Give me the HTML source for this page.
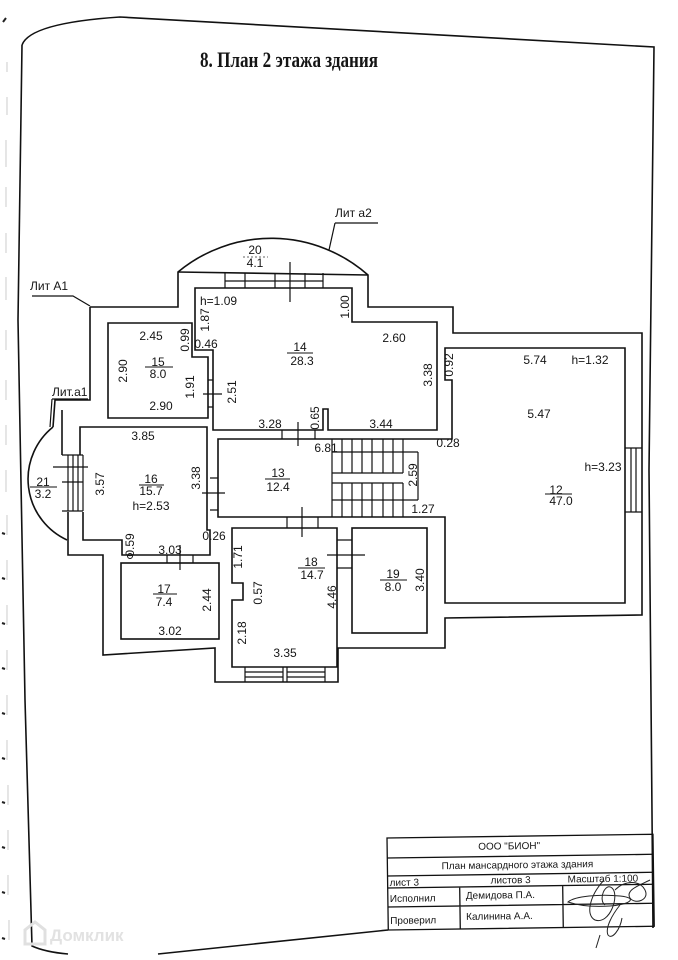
<!DOCTYPE html>
<html><head><meta charset="utf-8">
<style>
html,body{margin:0;padding:0;background:#fff;}
svg{display:block;}
text{font-family:"Liberation Sans",sans-serif;font-size:12px;fill:#151515;}
.c{text-anchor:middle;}
.t{font-family:"Liberation Serif",serif;font-weight:bold;font-size:22px;}
.s{font-size:10px;}
</style></head><body>
<svg width="678" height="960" viewBox="0 0 678 960" xmlns="http://www.w3.org/2000/svg">

<!-- left margin marks -->
<g stroke="#d4d4d4" stroke-width="1.2" fill="none">
<path d="M7,62 L7,72 M7,97 L7,115 M6,140 L6,167 M6,187 L6,207 M6,233 L6,253 M6,277 L6,300 M6,330 L6,350 M6,380 L6,400 M6,425 L6,445 M6,470 L6,492 M7,515 L7,535 M7,560 L7,580 M7,605 L7,625 M7,650 L7,670 M7,695 L7,715 M7,740 L7,760 M8,785 L8,805 M8,830 L8,850 M8,875 L8,895 M9,920 L9,940"/>
</g>
<g stroke="#222" stroke-width="2" fill="none">
<path d="M2,533 l3,1 M2,578 l3,1 M2,623 l3,1 M2,668 l3,1 M2,713 l3,1 M2,758 l3,1 M2,802 l3,1 M2,847 l3,1 M2,892 l3,1 M2,938 l3,1 M3,22 l3,-4"/>
</g>

<!-- page frame -->
<g fill="none" stroke="#111" stroke-width="1.6">
<path d="M22,45 Q30,23 120,17 L654,47 L649,470 L653,928"/>
<path d="M22,45 L18,320 L25,700 L32,946 Q45,952 68,954"/>
<path d="M158,954 L388,930"/>
</g>

<text class="t" x="200" y="67" textLength="178" lengthAdjust="spacingAndGlyphs">8. План 2 этажа здания</text>

<!-- building -->
<g fill="none" stroke="#111" stroke-width="1.6">
<!-- outer perimeter -->
<path d="M90,307 L178,307 L178,272 A146,146 0 0 1 368,275 L368,307 L453,307 L453,333 L642,333 L642,615 L445,618 L445,648 L338,648 L338,682 L215,682 L215,648 L103,655 L103,555 L68,555 L68,512"/>
<path d="M178,272 L368,275"/>
<path d="M53,427 L55,400 L90,400 L90,307"/>
<path d="M53,427 A67,67 0 0 0 67,540"/>
<path d="M62,410 L62,455"/>
<!-- room 14 -->
<path d="M195,288 L352,288 L352,322 L437,322 L437,430 L328,430 L328,409 L323,409 L323,430 L213,430 L213,350 L195,350 Z"/>
<!-- room 15 -->
<path d="M108,323 L192,323 L192,357 L208,357 L208,418 L108,418 Z"/>
<!-- room 16 -->
<path d="M80,455 L80,427 L207,427 L207,530 L210,530 L210,555 L122,555 L122,540 L83,540 L83,512"/>
<!-- hall 13 / stairs / room 12 -->
<path d="M437,439 L218,439 L218,517 L445,517 L445,603 L625,603 L625,348 L445,348 L445,380 L452,380 L452,439 L437,439"/>
<!-- room 18 -->
<path d="M232,528 L337,528 L337,667 L232,667 L232,600 L243,600 L243,583 L232,583 Z"/>
<!-- room 19 -->
<rect x="352" y="528" width="75" height="105"/>
<!-- room 17 -->
<rect x="121" y="563" width="98" height="76"/>
</g>

<g fill="none" stroke="#111" stroke-width="1.2">
<!-- window top of 14 -->
<path d="M225,273 L225,288 M323,273 L323,288 M225,281 L323,281 M245,273 L245,288 M275,273 L275,288 M305,273 L305,288"/>
<!-- window 21-16 -->
<path d="M62,455 L83,455 M62,511 L83,511 M68,455 L68,511 M73,455 L73,511 M78,455 L78,511 M83,455 L83,511 M62,482 L83,482"/>
<!-- window room 12 right -->
<path d="M625,448 L642,448 M625,512 L642,512 M631,448 L631,512 M636,448 L636,512"/>
<!-- window bottom of 18 -->
<path d="M245,667 L245,682 M325,667 L325,682 M245,672 L283,672 M245,677 L283,677 M287,672 L325,672 M287,677 L325,677 M283,667 L283,682 M287,667 L287,682"/>
<!-- doors -->
<path d="M208,380 L213,380 M208,407 L213,407"/>
<path d="M282,430 L282,439 M315,430 L315,439"/>
<path d="M210,478 L218,478 M210,510 L218,510"/>
<path d="M287,517 L287,528 M318,517 L318,528"/>
<path d="M167,555 L167,563 M193,555 L193,563"/>
<path d="M337,540 L352,540 M337,568 L352,568"/>
<!-- stairs -->
<path d="M332,439 L332,517 M342,439 L342,473 M352,439 L352,473 M362,439 L362,473 M372,439 L372,473 M383,439 L383,473 M393,439 L393,473 M403,439 L403,473
M342,483 L342,517 M352,483 L352,517 M362,483 L362,517 M372,483 L372,517 M383,483 L383,517 M393,483 L393,517 M403,483 L403,517
M332,473 L403,473 M332,483 L403,483 M332,452 L418,452 M332,500 L418,500 M418,452 L418,500"/>
<!-- door ticks -->
<path d="M290,262 L290,302 M203,394 L222,394 M298,422 L298,446 M53,467 L88,467 M202,493 L225,493 M180,545 L180,570 M302,507 L302,537 M327,555 L365,555"/>
<!-- leaders -->
<path d="M32,296 L73,296 L90,306"/>
<path d="M52,399 L88,399 M52,399 L50,427"/>
<path d="M335,223 L378,223 M335,223 L329,250"/>
</g>

<!-- fraction lines -->
<g fill="none" stroke="#111" stroke-width="1">
<path d="M287,353 L313,353 M145,367 L173,367 M30,487 L57,487 M139,485 L164,485 M265,479 L290,479 M298,568 L325,568 M380,580 L407,580 M153,594 L177,594 M545,494 L572,494"/>
<path d="M243,257 L268,257" stroke-dasharray="2,2" stroke="#666"/>
</g>
<circle cx="130" cy="556" r="2.5" fill="none" stroke="#111" stroke-width="1"/>

<!-- leader labels -->
<text x="30" y="290">Лит А1</text>
<text x="52" y="396">Лит.а1</text>
<text x="335" y="217">Лит а2</text>

<!-- horizontal labels -->
<g class="c">
<text class="c" x="255" y="254">20</text>
<text class="c" x="255" y="267">4.1</text>
<text class="c" x="151" y="340">2.45</text>
<text class="c" x="206" y="348">0.46</text>
<text class="c" x="394" y="342">2.60</text>
<text class="c" x="300" y="351">14</text>
<text class="c" x="302" y="365">28.3</text>
<text class="c" x="158" y="366">15</text>
<text class="c" x="158" y="378">8.0</text>
<text class="c" x="161" y="410">2.90</text>
<text class="c" x="270" y="428">3.28</text>
<text class="c" x="381" y="428">3.44</text>
<text class="c" x="143" y="440">3.85</text>
<text class="c" x="326" y="452">6.81</text>
<text class="c" x="448" y="447">0.28</text>
<text class="c" x="43" y="486">21</text>
<text class="c" x="43" y="498">3.2</text>
<text class="c" x="151" y="483">16</text>
<text class="c" x="151" y="495">15.7</text>
<text class="c" x="151" y="510">h=2.53</text>
<text class="c" x="278" y="477">13</text>
<text class="c" x="278" y="491">12.4</text>
<text class="c" x="423" y="513">1.27</text>
<text class="c" x="214" y="540">0.26</text>
<text class="c" x="170" y="554">3.03</text>
<text class="c" x="311" y="566">18</text>
<text class="c" x="312" y="579">14.7</text>
<text class="c" x="393" y="578">19</text>
<text class="c" x="393" y="591">8.0</text>
<text class="c" x="164" y="593">17</text>
<text class="c" x="164" y="606">7.4</text>
<text class="c" x="170" y="635">3.02</text>
<text class="c" x="285" y="657">3.35</text>
<text class="c" x="535" y="364">5.74</text>
<text class="c" x="590" y="364">h=1.32</text>
<text class="c" x="539" y="418">5.47</text>
<text class="c" x="603" y="471">h=3.23</text>
<text class="c" x="556" y="494">12</text>
<text class="c" x="561" y="505">47.0</text>
</g>
<text x="200" y="305">h=1.09</text>

<!-- vertical labels -->
<g>
<text class="c" transform="translate(205,320) rotate(-90)" dy="4">1.87</text>
<text class="c" transform="translate(345,307) rotate(-90)" dy="4">1.00</text>
<text class="c" transform="translate(185,340) rotate(-90)" dy="4">0.99</text>
<text class="c" transform="translate(123,371) rotate(-90)" dy="4">2.90</text>
<text class="c" transform="translate(428,375) rotate(-90)" dy="4">3.38</text>
<text class="c" transform="translate(449,365) rotate(-90)" dy="4">0.92</text>
<text class="c" transform="translate(190,387) rotate(-90)" dy="4">1.91</text>
<text class="c" transform="translate(232,392) rotate(-90)" dy="4">2.51</text>
<text class="c" transform="translate(315,418) rotate(-90)" dy="4">0.65</text>
<text class="c" transform="translate(100,484) rotate(-90)" dy="4">3.57</text>
<text class="c" transform="translate(196,478) rotate(-90)" dy="4">3.38</text>
<text class="c" transform="translate(413,475) rotate(-90)" dy="4">2.59</text>
<text class="c" transform="translate(130,545) rotate(-90)" dy="4">0.59</text>
<text class="c" transform="translate(238,557) rotate(-90)" dy="4">1.71</text>
<text class="c" transform="translate(420,580) rotate(-90)" dy="4">3.40</text>
<text class="c" transform="translate(207,600) rotate(-90)" dy="4">2.44</text>
<text class="c" transform="translate(258,593) rotate(-90)" dy="4">0.57</text>
<text class="c" transform="translate(332,597) rotate(-90)" dy="4">4.46</text>
<text class="c" transform="translate(242,633) rotate(-90)" dy="4">2.18</text>
</g>

<!-- title block -->
<g transform="rotate(-0.8 387 838)">
<g fill="none" stroke="#111" stroke-width="1.3">
<rect x="387" y="838" width="266" height="92"/>
<path d="M387,858 L653,858 M387,876 L653,876 M387,888 L653,888 M387,907 L653,907 M459,888 L459,930 M562,888 L562,930"/>
</g>
<text class="s c" x="509" y="851">ООО "БИОН"</text>
<text class="s c" x="517" y="870">План мансардного этажа здания</text>
<text class="s" x="389" y="886">лист 3</text>
<text class="s" x="490" y="885">листов 3</text>
<text class="s" x="567" y="885">Масштаб 1:100</text>
<text class="s" x="389" y="902">Исполнил</text>
<text class="s" x="465" y="900">Демидова П.А.</text>
<text class="s" x="389" y="924">Проверил</text>
<text class="s" x="465" y="921">Калинина А.А.</text>
</g>
<!-- signature -->
<g fill="none" stroke="#222" stroke-width="1">
<path d="M568,902 C575,896 600,894 620,896 C640,898 628,905 610,906 C595,907 580,906 568,902 Z"/>
<path d="M604,880 C590,895 585,915 595,920 C610,925 620,895 612,888 C605,882 598,900 605,905"/>
<path d="M615,890 C625,880 640,880 645,890 C650,900 635,905 630,898 C625,890 640,885 650,880"/>
<path d="M620,905 C612,915 605,928 608,935 C612,940 620,930 622,918"/>
<path d="M600,935 L596,948"/>
</g>

<!-- watermark -->
<g fill="none" stroke="#e0e0e0" stroke-width="3">
<path d="M25,944 L25,930 L35,922 L45,930 L45,944 Z"/>
</g>
<text x="50" y="941" style="font-size:17px;font-weight:bold;fill:#e2e2e2;">Домклик</text>

</svg>
</body></html>
